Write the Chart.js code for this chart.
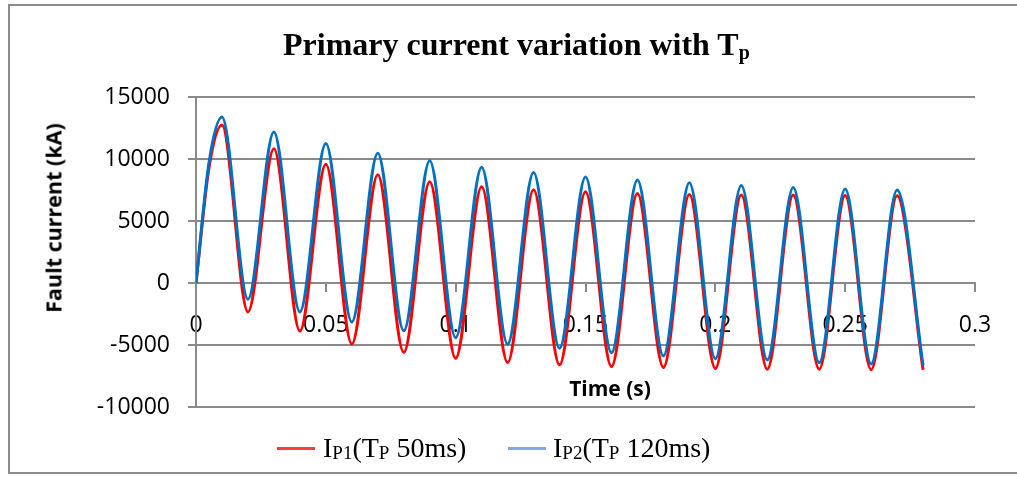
<!DOCTYPE html>
<html>
<head>
<meta charset="utf-8">
<script src="https://cdn.jsdelivr.net/npm/chart.js@4/dist/chart.umd.min.js"></script>
<style>
  html, body { margin: 0; padding: 0; background: #fff; }
  #wrap { position: relative; width: 1017px; height: 477px; overflow: hidden; }
  #frame { position: absolute; left: 8px; top: 4px; width: 1040px; height: 470px; border: 2px solid #8c8c8c; border-right: none; box-sizing: border-box; }
  canvas { position: absolute; left: 0; top: 0; }
  .serif { font-family: "Liberation Serif", "DejaVu Serif", serif; color: #000; white-space: nowrap; position: absolute; }
  #title { left: 283px; top: 28px; font-size: 32px; line-height: 32px; font-weight: bold; }
  #title sub { font-size: 20px; vertical-align: -4px; line-height: 0; }
  .legText { top: 434px; font-size: 28px; line-height: 28px; }
  .legText sub { font-size: 19px; vertical-align: -2px; line-height: 0; }
  .mark { position: absolute; width: 38px; height: 3px; top: 447px; }
  .axTitle { position: absolute; font-family: "Open Sans", sans-serif; font-weight: bold; color: #000; white-space: nowrap; transform-origin: center; }
  #yTitle { left: 53px; top: 218px; font-size: 21.5px; transform: translate(-50%, -50%) rotate(-90deg); }
  #xTitle { left: 610px; top: 388px; font-size: 21px; transform: translate(-50%, -50%); }
</style>
</head>
<body>
<div id="wrap">
  <div id="frame"></div>
  <canvas id="faultChart" width="1017" height="477"></canvas>
  <div id="title" class="serif">Primary current variation with T<sub>p</sub></div>
  <div id="yTitle" class="axTitle">Fault current (kA)</div>
  <div id="xTitle" class="axTitle">Time (s)</div>
  <div class="mark" style="left:277px; background:#ff3b3b;"></div>
  <div class="legText serif" style="left:323px;">I<sub>P1</sub>(T<sub>P</sub> 50ms)</div>
  <div class="mark" style="left:508px; background:#7fa8e0;"></div>
  <div class="legText serif" style="left:553px;">I<sub>P2</sub>(T<sub>P</sub> 120ms)</div>
</div>
<script>
// time samples (s): start, first rise, then every peak / trough
const timeS = [0, 0.005, 0.01, 0.02, 0.03, 0.04, 0.05, 0.06, 0.07, 0.08, 0.09, 0.10,
  0.11, 0.12, 0.13, 0.14, 0.15, 0.16, 0.17, 0.18, 0.19, 0.20, 0.21, 0.22, 0.23,
  0.24, 0.25, 0.26, 0.27, 0.28];

// IP1 (Tp 50ms), kA
const ip1 = [0, 9300, 12740, -2330, 10830, -3880, 9580, -4920, 8720, -5590, 8160, -6070,
  7760, -6420, 7520, -6600, 7360, -6740, 7220, -6820, 7140, -6900, 7100, -6950, 7090,
  -6950, 7060, -6990, 7040, -7000];

// IP2 (Tp 120ms), kA
const ip2 = [0, 9700, 13380, -1310, 12180, -2330, 11240, -3150, 10470, -3850, 9850, -4410,
  9340, -4920, 8910, -5270, 8540, -5620, 8300, -5880, 8080, -6100, 7870, -6200, 7710,
  -6420, 7580, -6530, 7500, -6650];

const xTicks = [0, 0.05, 0.1, 0.15, 0.2, 0.25, 0.3];
const yTicks = [-10000, -5000, 0, 5000, 10000, 15000];

const gridGrey = '#8a8a8a';
const tickFont = { family: 'Open Sans', size: 23 };

const toPoints = (vals) => vals.map((v, i) => ({ x: timeS[i], y: v }));

new Chart(document.getElementById('faultChart').getContext('2d'), {
  type: 'line',
  data: {
    datasets: [
      {
        label: 'IP1(TP 50ms)',
        data: toPoints(ip1),
        borderColor: '#ff0000',
        borderWidth: 3,
        pointRadius: 0,
        cubicInterpolationMode: 'monotone',
        order: 2
      },
      {
        label: 'IP2(TP 120ms)',
        data: toPoints(ip2),
        borderColor: '#0070c0',
        borderWidth: 3,
        pointRadius: 0,
        cubicInterpolationMode: 'monotone',
        order: 1
      }
    ]
  },
  options: {
    responsive: false,
    animation: false,
    layout: { padding: { top: 97, right: 42, bottom: 70, left: 0 } },
    plugins: {
      legend: { display: false },
      title: { display: false },
      tooltip: { enabled: false }
    },
    scales: {
      x: {
        type: 'linear',
        position: { y: 0 },
        min: 0,
        max: 0.3,
        afterBuildTicks: (s) => { s.ticks = xTicks.map(v => ({ value: v })); },
        grid: { display: true, drawOnChartArea: false, drawTicks: true, tickLength: 8, color: gridGrey, lineWidth: 2 },
        border: { display: true, color: gridGrey, width: 2 },
        ticks: { color: '#000', font: tickFont, padding: 21, maxRotation: 0, autoSkip: false, callback: (v) => String(v) }
      },
      y: {
        min: -10000,
        max: 15000,
        afterBuildTicks: (s) => { s.ticks = yTicks.map(v => ({ value: v })); },
        afterFit: (s) => { s.width = 196; },
        grid: { color: gridGrey, lineWidth: 2, tickLength: 8 },
        border: { display: true, color: gridGrey, width: 2 },
        ticks: { color: '#000', font: tickFont, padding: 18, callback: (v) => String(v) }
      }
    }
  }
});
</script>
</body>
</html>
